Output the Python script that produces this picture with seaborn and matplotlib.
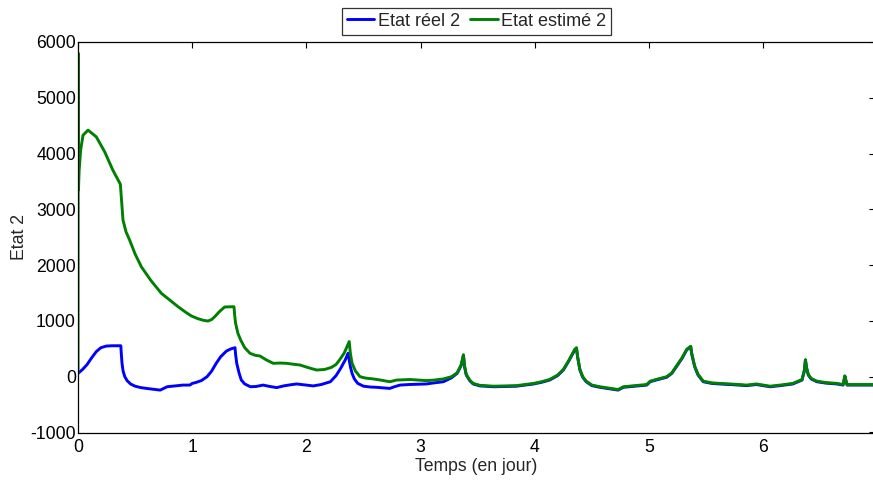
import numpy as np
import pandas as pd
import matplotlib
matplotlib.use("Agg")
import matplotlib.pyplot as plt
import seaborn as sns

# Time (days) and the real trajectory of state 2
t_reel = [0.0, 0.04, 0.08, 0.12, 0.16, 0.20, 0.25, 0.30, 0.375, 0.378, 0.385,
          0.395, 0.41, 0.43, 0.46, 0.50, 0.55, 0.60, 0.66, 0.72, 0.75, 0.78,
          0.85, 0.92, 0.98, 1.00, 1.03, 1.08, 1.13, 1.17, 1.21, 1.25, 1.30,
          1.34, 1.375, 1.38, 1.39, 1.41, 1.43, 1.46, 1.51, 1.56, 1.62, 1.68,
          1.74, 1.80, 1.86, 1.915, 1.98, 2.06, 2.13, 2.21, 2.26, 2.30, 2.34,
          2.365, 2.375, 2.385, 2.40, 2.42, 2.45, 2.50, 2.56, 2.615, 2.73, 2.77,
          2.82, 2.90, 3.05, 3.12, 3.20, 3.27, 3.32, 3.355, 3.375, 3.385, 3.40,
          3.43, 3.46, 3.52, 3.64, 3.84, 3.99, 4.06, 4.13, 4.20, 4.25, 4.30,
          4.35, 4.365, 4.375, 4.395, 4.42, 4.45, 4.50, 4.57, 4.65, 4.73, 4.775,
          4.88, 4.98, 5.01, 5.08, 5.155, 5.20, 5.24, 5.29, 5.33, 5.365, 5.375,
          5.40, 5.43, 5.475, 5.55, 5.62, 5.75, 5.855, 5.94, 6.06, 6.15, 6.26,
          6.34, 6.36, 6.37, 6.38, 6.395, 6.42, 6.47, 6.55, 6.645, 6.70, 6.715,
          6.725, 6.735, 6.81, 6.98]
y_reel = [60, 130, 220, 340, 450, 520, 550, 555, 555, 450, 250,
          100, 0, -70, -130, -170, -195, -210, -225, -240, -210, -180,
          -165, -150, -150, -120, -105, -70, 0, 100, 240, 360, 460,
          500, 520, 400, 240, 70, -60, -130, -180, -175, -150, -175,
          -195, -165, -145, -130, -145, -165, -140, -90, 20, 150, 300,
          420, 300, 180, 60, -40, -120, -170, -185, -190, -210, -180,
          -150, -140, -130, -110, -90, -20, 60, 200, 380, 180, 30,
          -70, -130, -165, -180, -170, -130, -100, -60, 20, 120, 290,
          480, 510, 350, 120, -10, -90, -160, -190, -215, -240, -190,
          -170, -150, -90, -50, -10, 60, 180, 330, 480, 540, 400,
          180, 30, -90, -120, -130, -145, -160, -140, -180, -160, -130,
          -60, 100, 300, 150, 30, -40, -90, -115, -130, -150, 10,
          -80, -150, -150, -150]

# Time (days) and the estimated trajectory of state 2
t_est = [0.0, 0.002, 0.004, 0.010, 0.023, 0.044, 0.088, 0.16, 0.234, 0.306,
         0.371, 0.379, 0.394, 0.42, 0.452, 0.50, 0.555, 0.64, 0.73, 0.80,
         0.876, 0.94, 0.992, 1.05, 1.10, 1.138, 1.17, 1.197, 1.24, 1.284,
         1.366, 1.372, 1.38, 1.40, 1.424, 1.46, 1.506, 1.55, 1.594, 1.65,
         1.71, 1.77, 1.827, 1.90, 1.944, 2.02, 2.09, 2.16, 2.22, 2.26, 2.29,
         2.33, 2.36, 2.375, 2.385, 2.40, 2.43, 2.47, 2.52, 2.585, 2.65, 2.73,
         2.79, 2.85, 2.91, 3.05, 3.12, 3.20, 3.27, 3.32, 3.355, 3.375, 3.385,
         3.40, 3.43, 3.46, 3.52, 3.64, 3.84, 3.99, 4.06, 4.13, 4.20, 4.25,
         4.30, 4.35, 4.365, 4.375, 4.395, 4.42, 4.45, 4.50, 4.57, 4.65, 4.73,
         4.775, 4.88, 4.98, 5.01, 5.08, 5.155, 5.20, 5.24, 5.29, 5.33, 5.365,
         5.375, 5.40, 5.43, 5.475, 5.55, 5.62, 5.75, 5.855, 5.94, 6.06, 6.15,
         6.26, 6.34, 6.36, 6.37, 6.38, 6.395, 6.42, 6.47, 6.55, 6.645, 6.70,
         6.715, 6.725, 6.735, 6.81, 6.98]
y_est = [60, 5800, 3350, 3700, 4060, 4330, 4420, 4300, 4030, 3700,
         3450, 3230, 2810, 2600, 2450, 2200, 1970, 1720, 1495, 1380,
         1255, 1160, 1090, 1040, 1010, 998, 1025, 1075, 1170, 1250,
         1255, 1100, 957, 780, 660, 520, 420, 385, 371, 300,
         240, 245, 240, 220, 210, 160, 120, 130, 168, 220, 300,
         420, 560, 630, 420, 240, 100, 0, -25, -40, -60, -90,
         -60, -55, -50, -70, -60, -40, 0, 70, 210, 395, 190,
         40, -60, -120, -155, -170, -160, -120, -90, -50, 30, 130,
         300, 490, 520, 360, 130, 0, -80, -150, -180, -205, -230,
         -180, -160, -140, -80, -40, 0, 70, 190, 340, 490, 545,
         410, 190, 40, -80, -110, -120, -135, -150, -130, -170, -150,
         -120, -50, 110, 305, 160, 40, -30, -80, -105, -120, -140,
         15, -70, -140, -140, -140]

serie_reel = "Etat réel 2"
serie_est = "Etat estimé 2"

df = pd.concat([
    pd.DataFrame({"Temps": t_reel, "Etat": y_reel, "Serie": serie_reel}),
    pd.DataFrame({"Temps": t_est, "Etat": y_est, "Serie": serie_est}),
], ignore_index=True)

sns.set_theme(style="white")
plt.rcParams["font.family"] = ["Liberation Sans", "DejaVu Sans"]
plt.rcParams["font.size"] = 12.7
plt.rcParams["axes.unicode_minus"] = False

fig = plt.figure(figsize=(8.73, 4.8), dpi=100)
ax = fig.add_axes([78 / 873, 47.5 / 480, 797.1 / 873, 390.5 / 480])

sns.lineplot(data=df, x="Temps", y="Etat", hue="Serie", sort=False,
             estimator=None, palette={serie_reel: "#0000ff", serie_est: "#008000"},
             linewidth=2.1, ax=ax)

ax.set_xlim(0, 6.98)
ax.set_ylim(-1000, 6000)
ax.set_xticks(range(0, 7))
ax.set_yticks(range(-1000, 6001, 1000))
ax.tick_params(direction="in", length=4, width=0.8, colors="black",
               top=True, right=True, labelsize=12.7)
ax.tick_params(axis="x", pad=5)
ax.tick_params(axis="y", pad=1.5)
for s in ax.spines.values():
    s.set_color("black")
    s.set_linewidth(0.9)
ax.set_xlabel("Temps (en jour)", fontsize=12.7, labelpad=1)
ax.set_ylabel("Etat 2", fontsize=12.7)
ax.yaxis.set_label_coords(-0.0625, 0.5)

leg = ax.legend(loc="lower center", bbox_to_anchor=(0.5, 1.0), ncol=2,
                frameon=True, fancybox=False, edgecolor="black",
                fontsize=13, handlelength=1.5, handletextpad=0.2,
                columnspacing=0.6, borderpad=0.28, borderaxespad=0.4)
leg.get_frame().set_linewidth(0.9)
for line in leg.get_lines():
    line.set_linewidth(2.1)

fig.savefig("out.png", dpi=100)
